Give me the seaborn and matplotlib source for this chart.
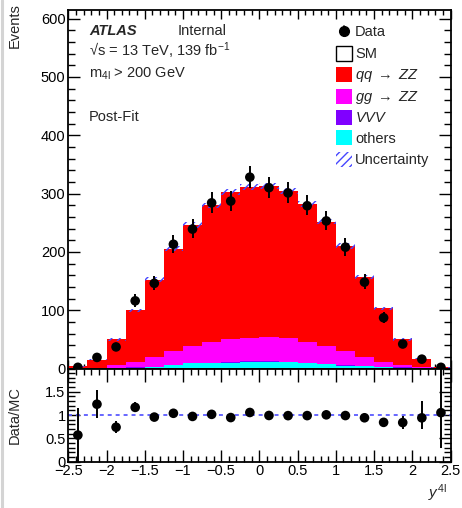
import numpy as np
import pandas as pd
import matplotlib
matplotlib.use("Agg")
import matplotlib.pyplot as plt
import seaborn as sns
from matplotlib.patches import Rectangle
from matplotlib.lines import Line2D
from matplotlib.ticker import MultipleLocator

# ---------------------------------------------------------------- data
bin_edges = [-2.5, -2.25, -2.0, -1.75, -1.5, -1.25, -1.0, -0.75, -0.5, -0.25, 0.0,
             0.25, 0.5, 0.75, 1.0, 1.25, 1.5, 1.75, 2.0, 2.25, 2.5]

qq_zz = [2.9, 13.9, 44.3, 88.1, 132.5, 175.3, 207.0, 234.9, 253.0, 257.9,
         258.5, 251.5, 236.0, 212.5, 180.0, 137.0, 91.6, 43.7, 14.0, 0.9]
gg_zz = [0.25, 0.9, 4.5, 9.4, 16.6, 23.3, 29.5, 35.0, 39.2, 40.5,
         41.8, 41.6, 36.4, 31.2, 24.2, 15.5, 8.2, 4.4, 1.9, 0.45]
vvv = [0.05, 0.1, 0.2, 0.3, 0.5, 0.7, 0.9, 1.0, 1.1, 1.2,
       1.2, 1.1, 1.0, 0.9, 0.7, 0.5, 0.3, 0.2, 0.1, 0.05]
others = [0.3, 0.5, 1.0, 1.7, 2.9, 5.7, 8.6, 8.6, 9.7, 10.9,
          11.0, 10.3, 8.6, 6.9, 5.1, 4.0, 2.9, 1.7, 1.0, 0.5]
mc_unc = [0.3, 0.8, 2.0, 3.2, 3.8, 4.3, 4.6, 4.8, 4.9, 5.0,
          5.0, 4.9, 4.8, 4.6, 4.3, 3.8, 3.2, 2.0, 0.8, 0.3]

data_counts = [2, 19, 37, 116, 146, 213, 239, 284, 287, 328,
               310, 301, 279, 253, 208, 148, 87, 42, 16, 2]
data_err_lo = [2.0, 4.5, 6.0, 10.7, 12.1, 14.6, 15.5, 16.9, 16.9, 18.1,
               17.6, 17.3, 16.7, 15.9, 14.4, 12.2, 9.3, 6.5, 4.2, 1.45]
data_err_hi = [2.0, 4.6, 7.1, 11.8, 13.1, 15.6, 16.5, 17.9, 18.0, 19.1,
               18.6, 18.4, 17.7, 16.9, 15.5, 13.2, 10.4, 7.5, 6.3, 1.8]

# ---------------------------------------------------------------- style
sns.set_theme(style="ticks")
plt.rcParams["font.family"] = ["Liberation Sans", "DejaVu Sans"]
plt.rcParams["mathtext.fontset"] = "custom"
plt.rcParams["mathtext.rm"] = "Liberation Sans"
plt.rcParams["mathtext.it"] = "Liberation Sans:italic"
plt.rcParams["mathtext.bf"] = "Liberation Sans:bold"
plt.rcParams["hatch.linewidth"] = 1.0
plt.rcParams["axes.linewidth"] = 1.3

W, H = 462, 508
fig = plt.figure(figsize=(W / 100, H / 100), dpi=100)
fig.patch.set_facecolor("white")


def fx(px):
    return px / W


def fy(py):
    return 1 - py / H


x_left, x_right = 68.3, 450.5
main_top, main_bot, ratio_bot = 10.0, 368.5, 461.7
ax = fig.add_axes([fx(x_left), fy(main_bot), fx(x_right) - fx(x_left), (main_bot - main_top) / H])
rax = fig.add_axes([fx(x_left), fy(ratio_bot), fx(x_right) - fx(x_left), (ratio_bot - main_bot) / H])

edges = np.array(bin_edges)
centers = 0.5 * (edges[:-1] + edges[1:])
qq_a, gg_a, vvv_a, oth_a = map(np.array, (qq_zz, gg_zz, vvv, others))
total = qq_a + gg_a + vvv_a + oth_a
data = np.array(data_counts, dtype=float)
elo = np.array(data_err_lo)
ehi = np.array(data_err_hi)
unc = np.array(mc_unc)

c_qq, c_gg, c_vvv, c_oth = "#ff0000", "#ff00ff", "#8000ff", "#00ffff"
c_unc = "#4646ff"

# stacked histograms, drawn from the cumulative top down
layers = [
    (total, c_qq),
    (gg_a + vvv_a + oth_a, c_gg),
    (vvv_a + oth_a, c_vvv),
    (oth_a, c_oth),
]
for top, col in layers:
    frame = pd.DataFrame({"y4l": centers, "w": top})
    sns.histplot(data=frame, x="y4l", weights="w", bins=bin_edges, element="step",
                 fill=True, color=col, edgecolor=col, alpha=1.0, linewidth=0,
                 ax=ax, zorder=2)

# MC uncertainty band
lo = np.append(total - unc, (total - unc)[-1])
hi = np.append(total + unc, (total + unc)[-1])
ax.fill_between(edges, lo, hi, step="post", facecolor="none", edgecolor=c_unc,
                hatch="////", linewidth=0, zorder=3)

# data points
ax.errorbar(centers, data, yerr=[elo, ehi], fmt="none", ecolor="black",
            elinewidth=1.4, capsize=0, zorder=4)
sns.scatterplot(x=centers, y=data, color="black", s=48, edgecolor="none",
                ax=ax, zorder=5, legend=False)

ax.set_xlim(-2.5, 2.5)
ax.set_ylim(0, 614.6)
ax.set_xlabel("")
ax.set_ylabel("")
ax.xaxis.set_major_locator(MultipleLocator(0.5))
ax.xaxis.set_minor_locator(MultipleLocator(0.1))
ax.yaxis.set_major_locator(MultipleLocator(100))
ax.yaxis.set_minor_locator(MultipleLocator(20))
ax.tick_params(which="both", direction="in", top=True, right=True, labelbottom=False,
               labelsize=10.5, width=1.0, pad=2, colors="black")
ax.tick_params(axis="y", which="major", length=8.5)
ax.tick_params(axis="y", which="minor", length=5)
ax.tick_params(axis="x", which="major", length=6.5)
ax.tick_params(axis="x", which="minor", length=3.5)
for s in ax.spines.values():
    s.set_visible(True)
    s.set_color("black")

# ratio panel
ratio = data / total
rax.axhline(1.0, color="#5a5aff", ls=(0, (2.2, 2.2)), lw=1.3, zorder=1)
rax.errorbar(centers, ratio, yerr=[elo / total, ehi / total], fmt="none",
             ecolor="black", elinewidth=1.4, capsize=0, zorder=4)
sns.scatterplot(x=centers, y=ratio, color="black", s=48, edgecolor="none",
                ax=rax, zorder=5, legend=False)
rax.set_xlim(-2.5, 2.5)
rax.set_ylim(0, 2)
rax.set_xlabel("")
rax.set_ylabel("")
rax.xaxis.set_minor_locator(MultipleLocator(0.1))
rax.set_yticks([0, 0.5, 1, 1.5])
rax.set_yticklabels(["0", "0.5", "1", "1.5"])
rax.yaxis.set_minor_locator(MultipleLocator(0.1))
rax.set_xticks([-2.5, -2, -1.5, -1, -0.5, 0, 0.5, 1, 1.5, 2, 2.5])
rax.set_xticklabels(["\u22122.5", "\u22122", "\u22121.5", "\u22121", "\u22120.5", "0",
                     "0.5", "1", "1.5", "2", "2.5"])
rax.tick_params(which="both", direction="in", top=True, right=True,
                labelsize=10.5, width=1.0, pad=2, colors="black")
rax.tick_params(axis="y", which="major", length=8.5)
rax.tick_params(axis="y", which="minor", length=5)
rax.tick_params(axis="x", which="major", length=9)
rax.tick_params(axis="x", which="minor", length=4)
for s in rax.spines.values():
    s.set_visible(True)
    s.set_color("black")

# axis titles
fig.text(fx(15), fy(3), "Events", rotation=90, ha="center", va="top", fontsize=10.5)
fig.text(fx(15), fy(415), "Data/MC", rotation=90, ha="center", va="center", fontsize=10.5)
fig.text(fx(447), fy(503), r"$y^{\mathrm{4l}}$", ha="right", va="bottom", fontsize=11)

# labels inside the main panel
fig.text(fx(89), fy(35), "ATLAS", fontsize=10.5, fontweight="bold", fontstyle="italic",
         va="baseline")
fig.text(fx(178), fy(35), "Internal", fontsize=10.5, va="baseline")
fig.text(fx(89), fy(56), "\u221as = 13 TeV, 139 fb$^{-1}$", fontsize=10.5, va="baseline")
fig.text(fx(89), fy(78), r"m$_{\mathrm{4l}}$ > 200 GeV", fontsize=10.5, va="baseline")
fig.text(fx(89), fy(121), "Post-Fit", fontsize=10.5, va="baseline")

# legend
box_x0, box_w, box_h = 335.5, 16.7, 15.0
text_x = 355
entries = [
    ("SM", 53.5, "white", "black", None),
    (r"$qq$ $\rightarrow$ $ZZ$", 74.5, c_qq, None, None),
    (r"$gg$ $\rightarrow$ $ZZ$", 96.0, c_gg, None, None),
    (r"$VVV$", 117.0, c_vvv, None, None),
    ("others", 138.0, c_oth, None, None),
    ("Uncertainty", 159.0, "none", None, "////"),
]
fig.add_artist(Line2D([fx(344)], [fy(31)], marker="o", color="black", markersize=7,
                      transform=fig.transFigure))
fig.add_artist(Line2D([fx(344), fx(344)], [fy(26), fy(36)], color="black", lw=1.2,
                      transform=fig.transFigure))
fig.text(fx(text_x), fy(36), "Data", fontsize=10.5, va="baseline")
for label, yc, fc, ec, hatch in entries:
    rect = Rectangle((fx(box_x0), fy(yc + box_h / 2)), box_w / W, box_h / H,
                     transform=fig.transFigure, facecolor=fc,
                     edgecolor=(ec if ec else (c_unc if hatch else fc)),
                     linewidth=(1.0 if ec else 0), hatch=hatch)
    fig.add_artist(rect)
    fig.text(fx(text_x), fy(yc + 5), label, fontsize=10.5, va="baseline")

# thin grey frame line on the left edge
fig.add_artist(Line2D([fx(1.5), fx(1.5)], [0, 1], color="#d4d4d4", lw=2.2,
                      transform=fig.transFigure))

fig.savefig("out.png", dpi=100, facecolor="white")
